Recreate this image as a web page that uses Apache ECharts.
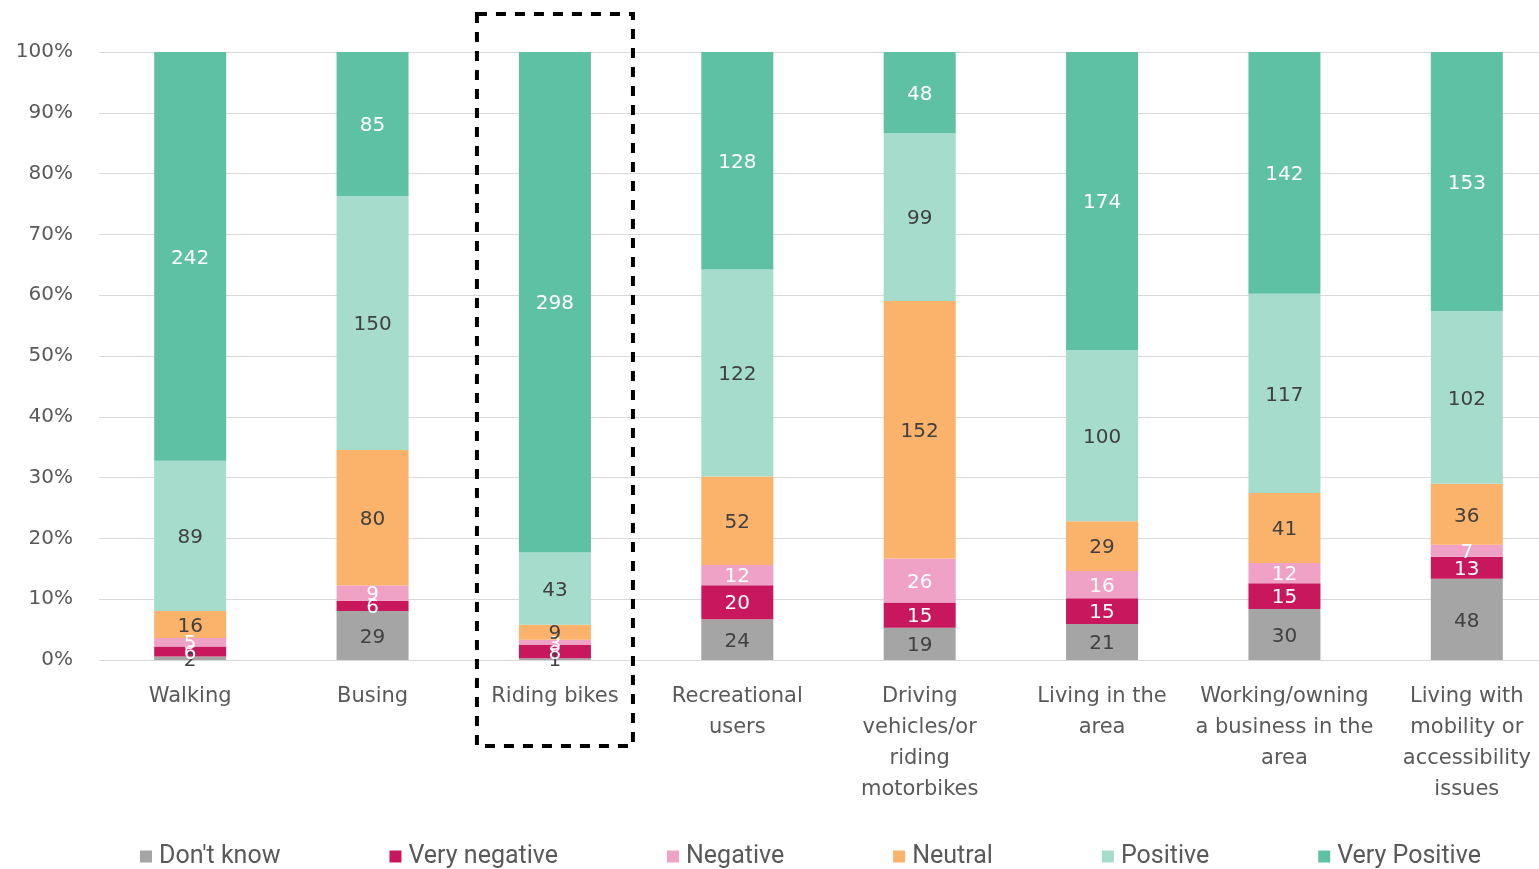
<!DOCTYPE html>
<html><head><meta charset="utf-8">
<script src="https://cdn.jsdelivr.net/npm/echarts@6/dist/echarts.min.js"></script>
<style>html,body{margin:0;padding:0;background:#fff}#c{width:1539px;height:869px}</style>
</head><body><div id="c"></div>
<script>
const categories = ["Walking","Busing","Riding bikes","Recreational\nusers","Driving\nvehicles/or\nriding\nmotorbikes","Living in the\narea","Working/owning\na business in the\narea","Living with\nmobility or\naccessibility\nissues"];
const dontKnow     = [2, 29, 1, 24, 19, 21, 30, 48];
const veryNegative = [6, 6, 8, 20, 15, 15, 15, 13];
const negative     = [5, 9, 3, 12, 26, 16, 12, 7];
const neutral      = [16, 80, 9, 52, 152, 29, 41, 36];
const positive     = [89, 150, 43, 122, 99, 100, 117, 102];
const veryPositive = [242, 85, 298, 128, 48, 174, 142, 153];
const yTicks = [0,10,20,30,40,50,60,70,80,90,100];
const highlighted = "Riding bikes";

const seriesDefs = [
  {name:"Don't know", data:dontKnow, color:"#a5a5a5", text:"#404040"},
  {name:"Very negative", data:veryNegative, color:"#c8175d", text:"#ffffff"},
  {name:"Negative", data:negative, color:"#f0a1c6", text:"#ffffff"},
  {name:"Neutral", data:neutral, color:"#fbb26b", text:"#404040"},
  {name:"Positive", data:positive, color:"#a6dccb", text:"#404040"},
  {name:"Very Positive", data:veryPositive, color:"#5fc1a4", text:"#ffffff"}
];
const totals = categories.map((c,i)=>seriesDefs.reduce((s,d)=>s+d.data[i],0));

const chart = echarts.init(document.getElementById('c'));
const font = "DejaVu Sans";
const option = {
  animation:false,
  grid:{left:99, width:1459, top:52, bottom:209, outerBoundsMode:'none', containLabel:false},
  legend:{top:839, left:135, itemWidth:12, itemHeight:12, itemGap:109, icon:'rect',
    textStyle:{fontFamily:"Roboto", fontSize:25, color:"#595959", padding:[0,0,0,2]},
    data:seriesDefs.map(d=>d.name)},
  xAxis:{type:'category', data:categories,
    axisLine:{show:false}, axisTick:{show:false},
    axisLabel:{interval:0, fontFamily:font, fontSize:21, color:"#595959", lineHeight:31, margin:21}},
  yAxis:{type:'value', min:0, max:100, interval:10,
    axisLabel:{formatter:'{value}%', fontFamily:font, fontSize:20, color:"#595959", margin:26},
    splitLine:{lineStyle:{color:"#d9d9d9", width:1}},
    axisLine:{show:false}, axisTick:{show:false}},
  series:seriesDefs.map(d=>({
    name:d.name, type:'bar', stack:'all', barWidth:72,
    itemStyle:{color:d.color},
    data:d.data.map((v,i)=>v/totals[i]*100),
    label:{show:true, position:'inside', offset:[0,2], fontFamily:font, fontSize:20, color:d.text,
      formatter:p=>String(d.data[p.dataIndex])}
  }))
};
chart.setOption(option);

const idx = categories.indexOf(highlighted);
const cx = chart.convertToPixel({xAxisIndex:0}, idx);
const yTop = chart.convertToPixel({yAxisIndex:0}, 100);
const yBot = chart.convertToPixel({yAxisIndex:0}, 0);
chart.setOption({graphic:[{type:'rect', shape:{x:cx-78, y:yTop-38, width:156, height:(yBot-yTop)+38+86},
  style:{fill:'none', stroke:'#000', lineWidth:4, lineDash:[10,9]}, z:100}]});
</script></body></html>
